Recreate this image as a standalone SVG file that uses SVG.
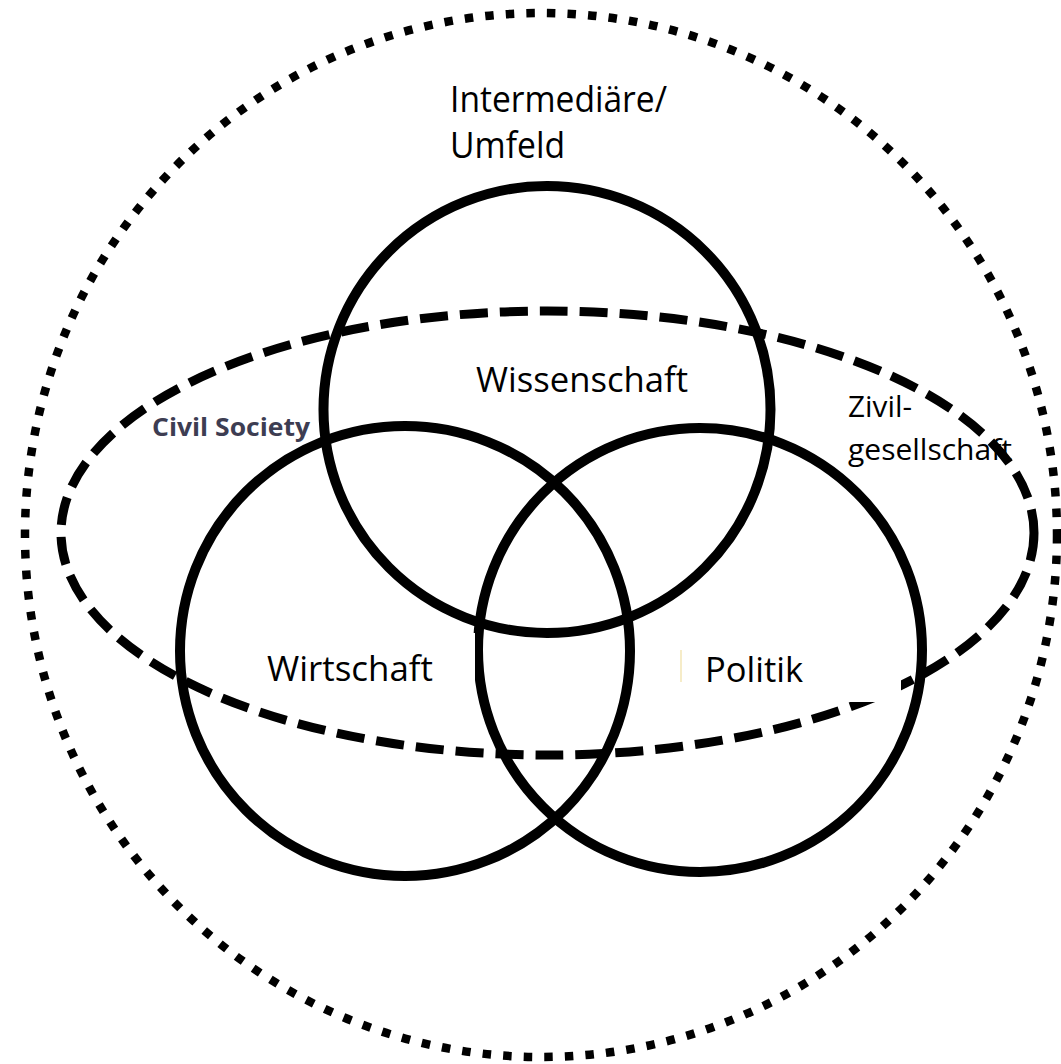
<svg xmlns="http://www.w3.org/2000/svg" width="1061" height="1064" viewBox="0 0 1061 1064">
  <style>
    .ring { fill: none; stroke: #000; stroke-width: 10; }
    .dotted { fill: none; stroke: #000; stroke-width: 8.5; stroke-dasharray: 8.5 12.1; }
    .dashed { fill: none; stroke: #000; stroke-width: 9; stroke-dasharray: 28 12; }
    .lbl { font-family: "Open Sans", "Noto Sans", sans-serif; fill: #000; }
    .cs { font-family: "Open Sans", "Noto Sans", sans-serif; font-weight: bold; fill: #3d3d52; }
    .mask { fill: #fff; }
  </style>
  <rect width="1061" height="1064" fill="#fff"/>
  <g id="umfeld">
    <ellipse class="dotted" cx="541" cy="535" rx="516" ry="522"/>
  </g>
  <g id="zivilgesellschaft">
    <ellipse class="dashed" cx="547.5" cy="533" rx="486.5" ry="222"/>
  </g>
  <g id="wissenschaft">
    <circle class="ring" cx="547" cy="409.5" r="223.5"/>
  </g>
  <g id="wirtschaft">
    <circle class="ring" cx="405" cy="651" r="225"/>
  </g>
  <g id="politik">
    <circle class="ring" cx="700" cy="650" r="222"/>
  </g>
  <g id="connectors"/>
  <g id="label-masks">
    <rect class="mask" x="260" y="633" width="215" height="69"/>
    <rect class="mask" x="673" y="630" width="228" height="72"/>
    <rect x="680" y="650" width="2" height="32" fill="#f6ecc8"/>
  </g>
  <g id="labels">
    <text class="lbl" x="450" y="112" font-size="36" textLength="217" lengthAdjust="spacingAndGlyphs">Intermediäre/</text>
    <text class="lbl" x="450" y="158" font-size="36" textLength="115" lengthAdjust="spacingAndGlyphs">Umfeld</text>
    <text class="lbl" x="476" y="392" font-size="35" textLength="212" lengthAdjust="spacingAndGlyphs">Wissenschaft</text>
    <text class="lbl" x="267" y="681" font-size="35" textLength="166" lengthAdjust="spacingAndGlyphs">Wirtschaft</text>
    <text class="lbl" x="705" y="682" font-size="35" textLength="98" lengthAdjust="spacingAndGlyphs">Politik</text>
    <text class="lbl" x="848" y="417" font-size="29" textLength="64" lengthAdjust="spacingAndGlyphs">Zivil-</text>
    <text class="lbl" x="848" y="460" font-size="29" textLength="164" lengthAdjust="spacingAndGlyphs">gesellschaft</text>
    <text class="cs" x="152" y="436" font-size="25" textLength="158" lengthAdjust="spacingAndGlyphs">Civil Society</text>
  </g>
</svg>
